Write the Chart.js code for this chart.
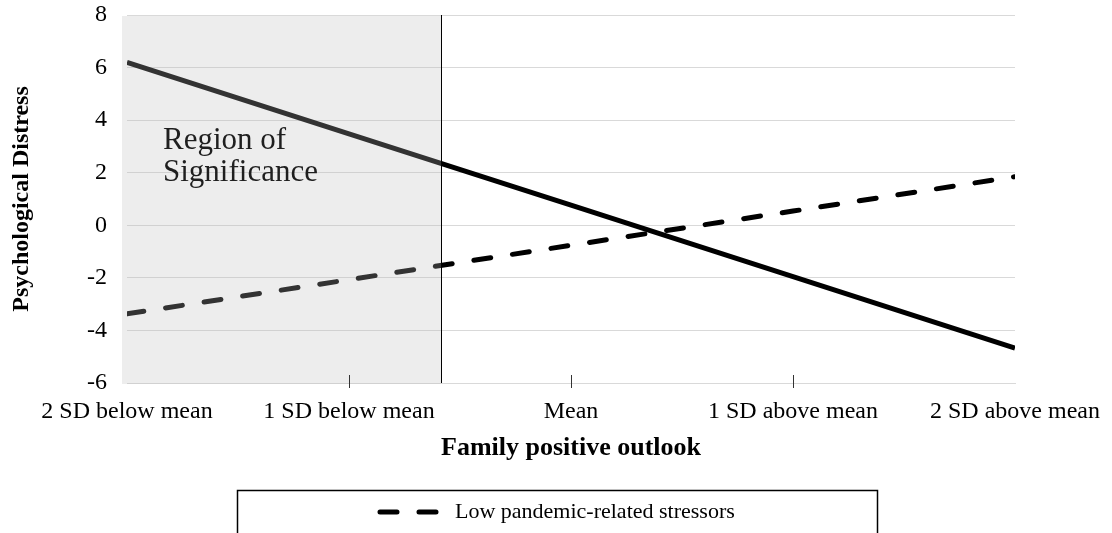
<!DOCTYPE html>
<html>
<head>
<meta charset="utf-8">
<script src="https://cdn.jsdelivr.net/npm/chart.js@4/dist/chart.umd.min.js"></script>
<style>
  html, body { margin: 0; padding: 0; background: #ffffff; }
  #wrap { width: 1112px; height: 533px; position: relative; }
</style>
</head>
<body>
<div id="wrap"><canvas id="chart" width="1112" height="533"></canvas></div>
<script>
// Family positive outlook, in SD units from the mean
const outlookSD = [-2, -1, 0, 1, 2];
const outlookLabels = ['2 SD below mean', '1 SD below mean', 'Mean', '1 SD above mean', '2 SD above mean'];

// Predicted psychological distress at each outlook level
const lowStressors = [-3.37, -2.07, -0.76, 0.54, 1.85];
const highStressors = [6.2, 3.48, 0.77, -1.95, -4.67];

const seriesNames = ['Low pandemic-related stressors', 'High pandemic-related stressors'];

// Upper bound (in SD units) of the region of significance
const significanceBound = -0.585;
const regionLabel = ['Region of', 'Significance'];

const yTicks = [-6, -4, -2, 0, 2, 4, 6, 8];

const serif = "'Liberation Serif', 'Times New Roman', serif";
Chart.defaults.font.family = serif;
Chart.defaults.color = '#000000';

const toPoints = (vals) => vals.map((v, i) => ({ x: outlookSD[i], y: v }));

// Grey band marking the region of significance, with its boundary line
const regionPlugin = {
  id: 'regionOfSignificance',
  afterDatasetsDraw(chart) {
    const { ctx, chartArea, scales } = chart;
    const xb = Math.round(scales.x.getPixelForValue(significanceBound)) + 0.5;
    const top = scales.y.getPixelForValue(yTicks[yTicks.length - 1]);
    const bottom = scales.y.getPixelForValue(yTicks[0]);
    ctx.save();
    ctx.fillStyle = 'rgba(189,189,189,0.27)';
    ctx.fillRect(chartArea.left - 5, top + 1, xb - (chartArea.left - 5), bottom - top);
    ctx.strokeStyle = '#000000';
    ctx.lineWidth = 1;
    ctx.beginPath();
    ctx.moveTo(xb, top);
    ctx.lineTo(xb, bottom);
    ctx.stroke();

    ctx.fillStyle = '#1f1f1f';
    ctx.font = '31px ' + serif;
    ctx.textAlign = 'left';
    ctx.textBaseline = 'middle';
    regionLabel.forEach((t, i) => ctx.fillText(t, chartArea.left + 36, 141 + i * 32));

    // inward tick marks on the category axis
    ctx.strokeStyle = '#333333';
    ctx.beginPath();
    outlookSD.slice(1, -1).forEach((v) => {
      const px = Math.round(scales.x.getPixelForValue(v)) + 0.5;
      ctx.moveTo(px, bottom - 8);
      ctx.lineTo(px, bottom + 5);
    });
    ctx.stroke();
    ctx.restore();
  }
};

// Boxed legend below the axis title
const boxLegendPlugin = {
  id: 'boxLegend',
  afterDraw(chart) {
    const { ctx } = chart;
    ctx.save();
    ctx.strokeStyle = '#000000';
    ctx.lineWidth = 1.5;
    ctx.strokeRect(237.5, 490.5, 640, 80);
    chart.data.datasets.forEach((ds, i) => {
      const y = 512 + i * 30;
      ctx.strokeStyle = ds.borderColor;
      ctx.lineWidth = ds.borderWidth;
      ctx.lineCap = 'round';
      ctx.setLineDash(ds.borderDash || []);
      ctx.beginPath();
      ctx.moveTo(380, y);
      ctx.lineTo(441, y);
      ctx.stroke();
      ctx.setLineDash([]);
      ctx.fillStyle = '#000000';
      ctx.font = '22px ' + serif;
      ctx.textAlign = 'left';
      ctx.textBaseline = 'middle';
      ctx.fillText(ds.label, 455, y);
    });
    ctx.restore();
  }
};

new Chart(document.getElementById('chart'), {
  type: 'line',
  data: {
    datasets: [
      {
        label: seriesNames[0],
        data: toPoints(lowStressors),
        borderColor: '#000000',
        borderWidth: 5,
        borderDash: [17, 22],
        borderCapStyle: 'round',
        pointRadius: 0,
        fill: false,
        tension: 0
      },
      {
        label: seriesNames[1],
        data: toPoints(highStressors),
        borderColor: '#000000',
        borderWidth: 5,
        borderCapStyle: 'butt',
        pointRadius: 0,
        fill: false,
        tension: 0
      }
    ]
  },
  options: {
    responsive: false,
    animation: false,
    events: [],
    layout: { padding: { top: 15, right: 97, bottom: 69, left: 3 } },
    plugins: {
      legend: { display: false },
      tooltip: { enabled: false }
    },
    scales: {
      x: {
        type: 'linear',
        min: outlookSD[0],
        max: outlookSD[outlookSD.length - 1],
        afterBuildTicks(scale) {
          scale.ticks = outlookSD.map((v) => ({ value: v }));
        },
        afterFit(scale) {
          scale.height = 81;
          scale.paddingLeft = 0;
          scale.paddingRight = 0;
          scale.paddingTop = 0;
          scale.paddingBottom = 0;
        },
        grid: { display: false, drawTicks: false },
        border: { display: true, color: '#d9d9d9', width: 1 },
        ticks: {
          padding: 14,
          maxRotation: 0,
          autoSkip: false,
          font: { size: 24 },
          color: '#000000',
          callback: (v) => outlookLabels[outlookSD.indexOf(v)]
        },
        title: {
          display: true,
          text: 'Family positive outlook',
          font: { size: 26, weight: 'bold' },
          color: '#000000',
          padding: { top: 0, bottom: 0 }
        }
      },
      y: {
        min: yTicks[0],
        max: yTicks[yTicks.length - 1],
        afterBuildTicks(scale) {
          scale.ticks = yTicks.map((v) => ({ value: v }));
        },
        afterFit(scale) {
          scale.width = 124;
          scale.paddingTop = 0;
          scale.paddingBottom = 0;
          scale.paddingLeft = 0;
          scale.paddingRight = 0;
        },
        grid: { color: '#d9d9d9', lineWidth: 1, drawTicks: false },
        border: { display: false },
        ticks: {
          padding: 20,
          font: { size: 24 },
          color: '#000000'
        },
        title: {
          display: true,
          text: 'Psychological Distress',
          font: { size: 24, weight: 'bold' },
          color: '#000000',
          padding: { top: 4, bottom: 0 }
        }
      }
    }
  },
  plugins: [regionPlugin, boxLegendPlugin]
});
</script>
</body>
</html>
